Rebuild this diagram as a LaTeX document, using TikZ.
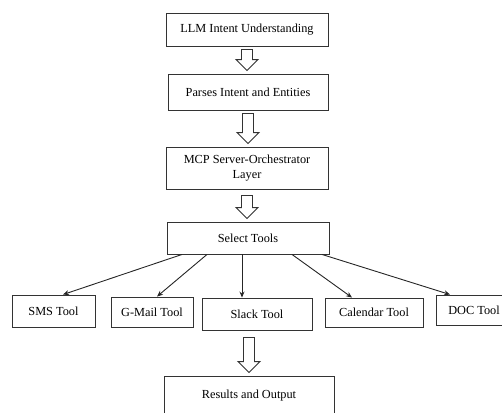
\documentclass[tikz,border=0pt]{standalone}
\usepackage{fontspec}
\setmainfont{Liberation Serif}
\usetikzlibrary{arrows.meta, calc}

\begin{document}
\begin{tikzpicture}[
  x=1pt, y=-1pt,
  box/.style={draw=black!80, line width=0.9pt, fill=white, align=center,
              inner sep=0pt, font=\fontsize{12.3}{15}\selectfont},
  hollow/.style={draw=black!80, line width=0.9pt, to path={
      let \p1=(\tikztostart), \p2=(\tikztotarget) in
      (\x1-5.5pt,\y1-3pt) -- (\x1+5.5pt,\y1-3pt) -- (\x1+5.5pt,\y2+14pt)
      -- (\x1+11pt,\y2+14pt) -- (\x1,\y2+3pt) -- (\x1-11pt,\y2+14pt)
      -- (\x1-5.5pt,\y2+14pt) -- cycle}},
  toolarrow/.style={-{Stealth[length=6pt,width=5pt]}, line width=0.9pt, draw=black!85}
]
  \useasboundingbox (0,0) rectangle (502,412);

  \node[box, minimum width=162, minimum height=33] (llm)    at (247,29.5) {LLM Intent Understanding};
  \node[box, minimum width=160, minimum height=36] (parse)  at (248,92)   {Parses Intent and Entities};
  \node[box, minimum width=162, minimum height=42] (mcp)    at (247,168)  {MCP Server-Orchestrator\\Layer};
  \node[box, minimum width=162, minimum height=32] (select) at (248,238)  {Select Tools};

  % tool row
  \node[box, minimum width=83,  minimum height=32] (sms)      at (53.5,311) {SMS Tool};
  \node[box, minimum width=82,  minimum height=30] (gmail)    at (152,312)  {G-Mail Tool};
  \node[box, minimum width=110, minimum height=32] (slack)    at (257,314)  {Slack Tool};
  \node[box, minimum width=98,  minimum height=29] (calendar) at (374,312.5) {Calendar Tool};
  \node[box, minimum width=76,  minimum height=30] (doc)      at (474,310)  {DOC Tool};

  \node[box, minimum width=170, minimum height=40] (results) at (249,396) {Results and Output};

  \draw[hollow] (llm.south) to (parse.north);
  \draw[hollow] (parse.south) to (mcp.north);
  \draw[hollow] ([yshift=-3]mcp.south) to (select.north);
  \draw[hollow] ([yshift=-4]results.north |- slack.south) to (results.north);

  \draw[toolarrow] ([xshift=-66]select.south) -- ([xshift=9.5]sms.north);
  \draw[toolarrow] ([xshift=-41]select.south) -- ([xshift=5]gmail.north);
  \draw[toolarrow] ([xshift=-6]select.south)  -- ([xshift=-15]slack.north);
  \draw[toolarrow] ([xshift=44]select.south)  -- ([xshift=-22]calendar.north);
  \draw[toolarrow] ([xshift=74]select.south)  -- ([xshift=-24]doc.north);
\end{tikzpicture}
\end{document}
